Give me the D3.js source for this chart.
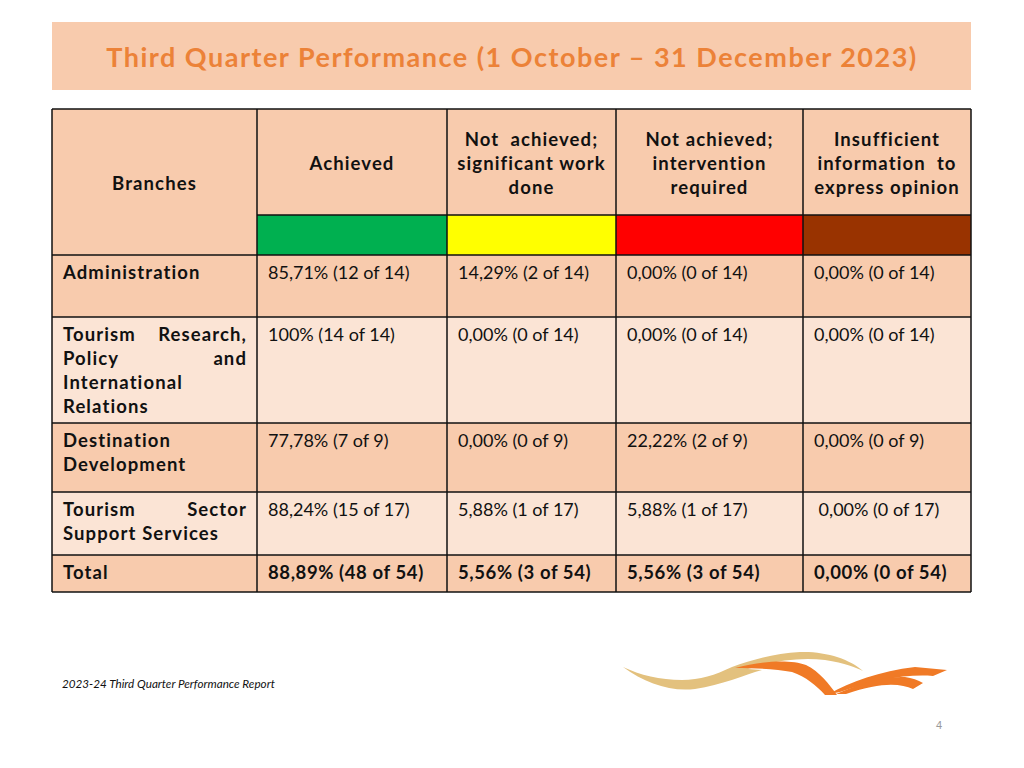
<!DOCTYPE html>
<html><head><meta charset="utf-8">
<script src="https://cdn.jsdelivr.net/npm/d3@7/dist/d3.min.js"></script>
<style>html,body{margin:0;padding:0;background:#fff}svg{display:block}</style>
</head><body>
<script>
// ---- data ----
const title = "Third Quarter Performance (1 October \u2013 31 December 2023)";
const headers = [["Branches"], ["Achieved"], ["Not  achieved;", "significant work", "done"], ["Not achieved;", "intervention", "required"], ["Insufficient", "information  to", "express opinion"]];
const statusColors = ["#00B050", "#FFFF00", "#FF0000", "#993300"];
const branches = [["Administration"], ["Tourism Research,", "Policy and", "International", "Relations"], ["Destination", "Development"], ["Tourism Sector", "Support Services"], ["Total"]];
const achieved = ["85,71% (12 of 14)", "100% (14 of 14)", "77,78% (7 of 9)", "88,24% (15 of 17)", "88,89% (48 of 54)"];
const significantWork = ["14,29% (2 of 14)", "0,00% (0 of 14)", "0,00% (0 of 9)", "5,88% (1 of 17)", "5,56% (3 of 54)"];
const interventionRequired = ["0,00% (0 of 14)", "0,00% (0 of 14)", "22,22% (2 of 9)", "5,88% (1 of 17)", "5,56% (3 of 54)"];
const insufficientInfo = ["0,00% (0 of 14)", "0,00% (0 of 14)", "0,00% (0 of 9)", " 0,00% (0 of 17)", "0,00% (0 of 54)"];
const justifiedLines = [[false], [true, true, false, false], [false, false], [true, false], [false]];
const footer = "2023-24 Third Quarter Performance Report";
const pageNo = "4";

// ---- layout ----
const W = 1024, H = 768;
const svg = d3.select("body").append("svg").attr("width", W).attr("height", H);
const font = "Lato, 'Open Sans', sans-serif";
const colEdges = [52, 257, 447, 616, 803, 971];
const rowEdges = [255, 317, 423, 492, 555, 592];
const headTop = 109, swatchTop = 215;
const x = d3.scaleOrdinal().domain(d3.range(6)).range(colEdges);
const y = d3.scaleOrdinal().domain(d3.range(6)).range(rowEdges);
const dark = "#F8CBAD", light = "#FBE4D5";
const boldSize = 18.5, boldLS = 1.1, regSize = 18;

// title box
svg.append("rect").attr("x", 52).attr("y", 22).attr("width", 919).attr("height", 68).attr("fill", "#F8CBAD");
svg.append("text").attr("x", 512).attr("y", 67).attr("text-anchor", "middle")
  .attr("font-family", font).attr("font-weight", "bold").attr("font-size", 27)
  .attr("letter-spacing", 1.5).attr("fill", "#EC8238").text(title);

const g = svg.append("g");
g.append("rect").attr("x", x(0)).attr("y", headTop).attr("width", x(5) - x(0)).attr("height", rowEdges[0] - headTop).attr("fill", dark);
statusColors.forEach((c, i) => {
  g.append("rect").attr("x", x(i + 1)).attr("y", swatchTop).attr("width", x(i + 2) - x(i + 1)).attr("height", rowEdges[0] - swatchTop).attr("fill", c);
});
const cols = [null, achieved, significantWork, interventionRequired, insufficientInfo];
branches.forEach((b, r) => {
  g.append("rect").attr("x", x(0)).attr("y", y(r)).attr("width", x(5) - x(0)).attr("height", y(r + 1) - y(r))
    .attr("fill", r % 2 === 0 ? dark : light);
});

const line = (x1, y1, x2, y2) => g.append("line").attr("x1", x1).attr("y1", y1).attr("x2", x2).attr("y2", y2)
  .attr("stroke", "#111").attr("stroke-width", 1.5);
line(x(0), headTop, x(5), headTop);
line(x(1), swatchTop, x(5), swatchTop);
rowEdges.forEach((v, i) => line(x(0), y(i), x(5), y(i)));
colEdges.forEach((v, i) => line(x(i), headTop, x(i), y(5)));

const boldText = (sel) => sel.attr("font-family", font).attr("font-weight", "bold")
  .attr("font-size", boldSize).attr("letter-spacing", boldLS).attr("fill", "#111");

headers.forEach((lines, i) => {
  const cx = (x(i) + x(i + 1)) / 2;
  const n = lines.length;
  const cy = i === 0 ? 183 : 163;
  lines.forEach((t, k) => {
    boldText(g.append("text")).attr("x", cx).attr("y", cy + (k - (n - 1) / 2) * 24 + 6.5)
      .attr("text-anchor", "middle").style("white-space", "pre").text(t);
  });
});

branches.forEach((lines, r) => {
  lines.forEach((t, k) => {
    const by = y(r) + 24 + k * 24;
    const words = t.split(" ");
    if (justifiedLines[r][k] && words.length > 1) {
      boldText(g.append("text")).attr("x", x(0) + 11).attr("y", by).text(words[0]);
      boldText(g.append("text")).attr("x", x(1) - 10).attr("y", by).attr("text-anchor", "end").text(words.slice(1).join(" "));
    } else {
      boldText(g.append("text")).attr("x", x(0) + 11).attr("y", by).text(t);
    }
  });
  const isTotal = r === branches.length - 1;
  for (let c = 1; c <= 4; c++) {
    const t = g.append("text").attr("x", x(c) + 11).attr("y", y(r) + 24)
      .attr("fill", "#111").style("white-space", "pre").text(cols[c][r]);
    if (isTotal) boldText(t).attr("letter-spacing", 0.6);
    else t.attr("font-family", font).attr("font-size", regSize);
  }
});

// footer
svg.append("text").attr("x", 62).attr("y", 688).attr("font-family", font).attr("font-style", "italic")
  .attr("font-size", 11.7).attr("fill", "#111").text(footer);
svg.append("text").attr("x", 939).attr("y", 729).attr("text-anchor", "middle").attr("font-family", "Liberation Sans, Arial, sans-serif")
  .attr("font-size", 11).attr("fill", "#999").text(pageNo);

// logo swooshes
const logo = svg.append("g");
logo.append("path").attr("fill", "#E3C17E")
  .attr("d", "M623,667 C645,683 670,692 695,689 C722,685 744,675 762,670 L748,669 C772,661 800,657 825,660 C845,663 857,668 863,671 C850,659 825,651 800,652 C775,653 752,660 732,667 C715,675 700,680 682,680 C660,680 640,675 623,667 Z");
logo.append("path").attr("fill", "#F07A26")
  .attr("d", "M735,668 C760,661 790,659 806,665 C820,672 829,684 837,695 L825,695 C816,685 806,677 792,672 C777,669 755,668 735,668 Z");
logo.append("path").attr("fill", "#F07A26")
  .attr("d", "M829,694 C850,682 880,671 915,667 L947,670 L933,676 C905,674 875,680 840,692 Z");
logo.append("path").attr("fill", "#F07A26")
  .attr("d", "M836,694 C858,684 885,676 905,677 C912,678 918,680 923,683 L913,689 C900,683 880,682 846,694 Z");
</script>
</body></html>
